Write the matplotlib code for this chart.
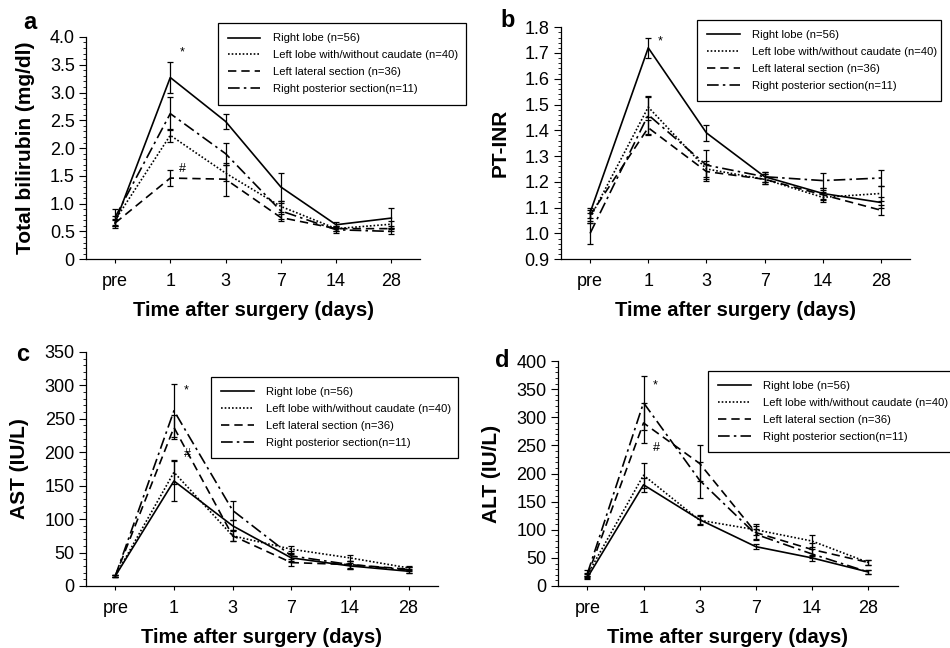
import matplotlib
matplotlib.use('Agg')
import matplotlib.pyplot as plt
from matplotlib.ticker import AutoMinorLocator

plt.rcParams['font.family'] = ['Liberation Sans', 'DejaVu Sans']

days = ['pre', '1', '3', '7', '14', '28']
groups = ['Right lobe (n=56)', 'Left lobe with/without caudate (n=40)',
          'Left lateral section (n=36)', 'Right posterior section(n=11)']
styles = ['-', (0, (1, 1.2)), (0, (5, 3)), (0, (7, 2.5, 1.5, 2.5))]

# total bilirubin (mg/dl): mean, error
tb_right = [0.65, 3.27, 2.48, 1.30, 0.62, 0.74]
tb_right_err = [0.08, 0.28, 0.14, 0.25, 0.05, 0.18]
tb_left = [0.70, 2.23, 1.55, 0.95, 0.55, 0.63]
tb_left_err = [0.08, 0.12, 0.15, 0.10, 0.04, 0.06]
tb_lat = [0.65, 1.46, 1.44, 0.75, 0.55, 0.55]
tb_lat_err = [0.06, 0.14, 0.30, 0.07, 0.04, 0.05]
tb_post = [0.75, 2.62, 1.90, 0.87, 0.53, 0.50]
tb_post_err = [0.15, 0.30, 0.20, 0.15, 0.05, 0.05]

# PT-INR
inr_right = [1.08, 1.72, 1.39, 1.22, 1.155, 1.12]
inr_right_err = [0.02, 0.04, 0.03, 0.02, 0.02, 0.02]
inr_left = [1.06, 1.49, 1.25, 1.21, 1.14, 1.155]
inr_left_err = [0.02, 0.04, 0.03, 0.02, 0.02, 0.03]
inr_lat = [1.07, 1.41, 1.24, 1.21, 1.15, 1.09]
inr_lat_err = [0.02, 0.03, 0.03, 0.02, 0.02, 0.02]
inr_post = [1.00, 1.46, 1.265, 1.22, 1.205, 1.215]
inr_post_err = [0.04, 0.075, 0.06, 0.02, 0.03, 0.03]

# AST (IU/L)
ast_right = [15, 157, 90, 42, 30, 22]
ast_right_err = [2, 30, 8, 6, 5, 3]
ast_left = [15, 170, 75, 55, 42, 27]
ast_left_err = [2, 18, 8, 5, 5, 3]
ast_lat = [15, 237, 75, 35, 32, 25]
ast_lat_err = [2, 18, 8, 5, 5, 3]
ast_post = [15, 262, 113, 45, 32, 24]
ast_post_err = [2, 40, 14, 8, 6, 4]

# ALT (IU/L)
alt_right = [15, 180, 118, 70, 50, 25]
alt_right_err = [3, 12, 8, 4, 5, 3]
alt_left = [20, 197, 117, 100, 80, 42]
alt_left_err = [3, 22, 8, 10, 10, 5]
alt_lat = [18, 290, 218, 95, 65, 42]
alt_lat_err = [4, 35, 32, 12, 12, 4]
alt_post = [22, 326, 188, 92, 57, 25]
alt_post_err = [6, 48, 32, 10, 8, 3]

panels = [
    dict(letter='a', ylabel='Total bilirubin (mg/dl)',
         series=[(tb_right, tb_right_err), (tb_left, tb_left_err),
                 (tb_lat, tb_lat_err), (tb_post, tb_post_err)],
         ylim=(0, 4.0), yticks=[0, 0.5, 1.0, 1.5, 2.0, 2.5, 3.0, 3.5, 4.0],
         ylabels=['0', '0.5', '1.0', '1.5', '2.0', '2.5', '3.0', '3.5', '4.0'],
         pos=[0.0905, 0.600, 0.352, 0.343], xpad=0.525,
         leg=(0.229, 0.963, 0.262), marks=[('*', 1.17, 3.72), ('#', 1.15, 1.62)],
         letter_xy=(0.024, 0.966)),
    dict(letter='b', ylabel='PT-INR',
         series=[(inr_right, inr_right_err), (inr_left, inr_left_err),
                 (inr_lat, inr_lat_err), (inr_post, inr_post_err)],
         ylim=(0.9, 1.8), yticks=[0.9, 1.0, 1.1, 1.2, 1.3, 1.4, 1.5, 1.6, 1.7, 1.8],
         ylabels=['0.9', '1.0', '1.1', '1.2', '1.3', '1.4', '1.5', '1.6', '1.7', '1.8'],
         pos=[0.5905, 0.600, 0.3675, 0.358], xpad=0.5,
         leg=(0.734, 0.968, 0.257), marks=[('*', 1.17, 1.745)],
         letter_xy=(0.527, 0.969)),
    dict(letter='c', ylabel='AST (IU/L)',
         series=[(ast_right, ast_right_err), (ast_left, ast_left_err),
                 (ast_lat, ast_lat_err), (ast_post, ast_post_err)],
         ylim=(0, 350), yticks=[0, 50, 100, 150, 200, 250, 300, 350],
         ylabels=['0', '50', '100', '150', '200', '250', '300', '350'],
         pos=[0.0905, 0.0957, 0.3705, 0.3613], xpad=0.5,
         leg=(0.222, 0.417, 0.260), marks=[('*', 1.17, 292), ('#', 1.17, 198)],
         letter_xy=(0.017, 0.453)),
    dict(letter='d', ylabel='ALT (IU/L)',
         series=[(alt_right, alt_right_err), (alt_left, alt_left_err),
                 (alt_lat, alt_lat_err), (alt_post, alt_post_err)],
         ylim=(0, 400), yticks=[0, 50, 100, 150, 200, 250, 300, 350, 400],
         ylabels=['0', '50', '100', '150', '200', '250', '300', '350', '400'],
         pos=[0.587, 0.0957, 0.358, 0.347], xpad=0.53,
         leg=(0.745, 0.427, 0.262), marks=[('*', 1.16, 356), ('#', 1.16, 246)],
         letter_xy=(0.521, 0.443)),
]

fig = plt.figure(figsize=(9.5, 6.48), dpi=100)
xs = list(range(len(days)))

for p in panels:
    ax = fig.add_axes(p['pos'])
    handles = []
    for (vals, errs), ls, lab in zip(p['series'], styles, groups):
        ax.errorbar(xs, vals, yerr=errs, fmt='none', ecolor='black',
                    elinewidth=0.9, capsize=2.5, capthick=0.9)
        h, = ax.plot(xs, vals, linestyle=ls, color='black', linewidth=1.2,
                     label=lab)
        handles.append(h)

    ax.set_xlim(-p['xpad'], len(days) - 1 + p['xpad'])
    ax.set_ylim(*p['ylim'])
    ax.set_xticks(xs)
    ax.set_xticklabels(days, fontsize=13)
    ax.set_yticks(p['yticks'])
    ax.set_yticklabels(p['ylabels'], fontsize=13)
    ax.yaxis.set_minor_locator(AutoMinorLocator(5))
    ax.tick_params(axis='y', which='major', length=5, width=0.8, pad=3)
    ax.tick_params(axis='y', which='minor', length=2.5, width=0.6)
    ax.tick_params(axis='x', length=3, width=0.8, pad=7)
    for s in ['top', 'right']:
        ax.spines[s].set_visible(False)
    for s in ['left', 'bottom']:
        ax.spines[s].set_linewidth(0.9)

    ax.set_xlabel('Time after surgery (days)', fontsize=14.5, fontweight='bold',
                  labelpad=8)
    ax.set_ylabel(p['ylabel'], fontsize=15, fontweight='bold', labelpad=11)

    for txt, mx, my in p['marks']:
        ax.text(mx, my, txt, fontsize=9, ha='left', va='center')

    lx, ly, lw = p['leg']
    leg = fig.legend(handles=handles, loc='upper left',
                     bbox_to_anchor=(lx, ly, lw, 0.001), mode='expand',
                     fontsize=8.1, frameon=True, fancybox=False,
                     edgecolor='black', framealpha=1, handlelength=2.9,
                     handletextpad=1.1, borderpad=0.9, labelspacing=0.62,
                     borderaxespad=0)
    leg.get_frame().set_linewidth(0.9)

    fig.text(p['letter_xy'][0], p['letter_xy'][1], p['letter'], fontsize=17,
             fontweight='bold', ha='left', va='center')

fig.savefig('out.png', dpi=100)
